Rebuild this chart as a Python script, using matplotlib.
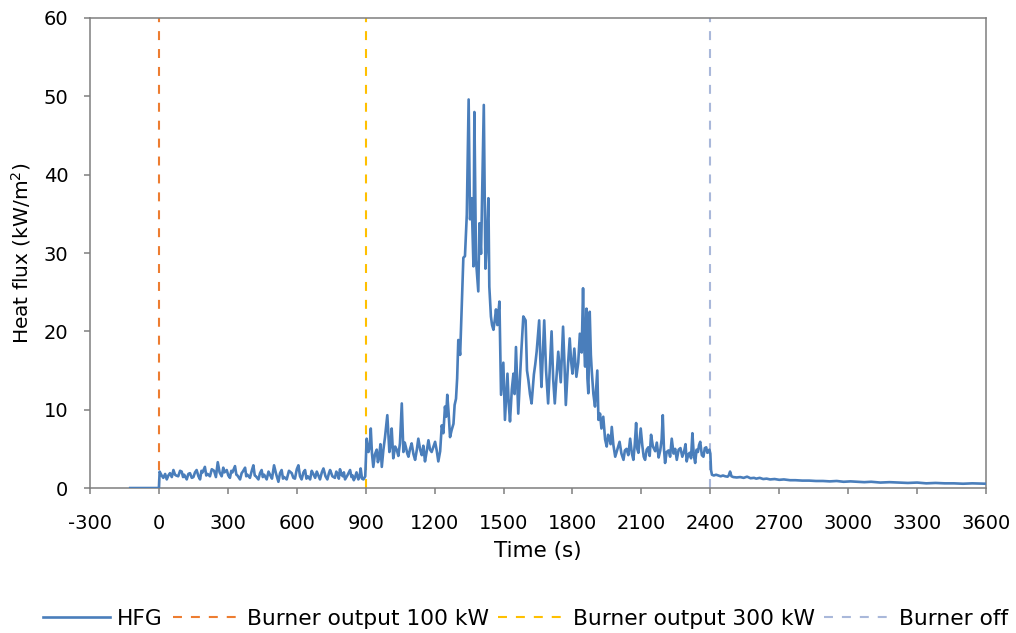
import numpy as np
import matplotlib
matplotlib.use('Agg')
import matplotlib.pyplot as plt

plt.rcParams['font.family'] = ['DejaVu Sans']
plt.rcParams['axes.unicode_minus'] = False

# HFG heat flux readings (time in s, heat flux in kW/m2)
time_s = [
    -125, -100, -50, -10, 0, 3, 12, 19, 27, 34, 41, 48, 56, 63, 70, 75, 84, 92, 99, 105, 110,
    121, 128, 135, 143, 150, 157, 164, 172, 179, 185, 190, 200, 206, 212, 222, 230, 240, 248,
    256, 264, 273, 280, 285, 295, 302, 309, 315, 320, 331, 337, 342, 353, 360, 365, 375, 380,
    385, 396, 404, 411, 417, 422, 433, 440, 447, 452, 458, 469, 477, 485, 492, 501, 510, 520,
    527, 534, 540, 545, 556, 566, 578, 585, 592, 600, 607, 614, 621, 629, 636, 642, 648, 658,
    665, 672, 680, 687, 694, 701, 709, 716, 725, 733, 740, 745, 755, 766, 772, 777, 783, 788,
    795, 800, 805, 810, 820, 832, 838, 843, 848, 853, 860, 868, 873, 878, 884, 890, 898,
    904, 912, 918, 922, 927, 933, 940, 948, 953, 958, 964, 970, 977, 984, 994, 1003, 1008,
    1013, 1020, 1028, 1035, 1042, 1049, 1057, 1064, 1070, 1075, 1081, 1086, 1093, 1100, 1108,
    1115, 1122, 1129, 1137, 1144, 1151, 1158, 1165, 1173, 1180, 1187, 1195, 1202, 1209, 1216,
    1224, 1231, 1238, 1245, 1250, 1255, 1261, 1267, 1274, 1282, 1287, 1293, 1298, 1303, 1311,
    1318, 1325, 1332, 1340, 1348, 1354, 1361, 1369, 1373, 1380, 1390, 1395, 1402, 1414, 1421,
    1427, 1434, 1438, 1445, 1450, 1456, 1462, 1467, 1473, 1482, 1489, 1494, 1499, 1506, 1511,
    1517, 1522, 1528, 1536, 1543, 1548, 1554, 1564, 1571, 1578, 1586, 1596, 1602, 1608, 1615,
    1622, 1632, 1638, 1644, 1655, 1660, 1665, 1671, 1677, 1685, 1694, 1702, 1709, 1716, 1723,
    1730, 1738, 1744, 1749, 1759, 1765, 1771, 1780, 1788, 1794, 1800, 1808, 1817, 1825, 1832,
    1840, 1846, 1851, 1855, 1861, 1865, 1869, 1875, 1880, 1884, 1891, 1898, 1903, 1908, 1913,
    1920, 1926, 1934, 1942, 1949, 1955, 1960, 1966, 1971, 1978, 1986, 1995, 2005, 2013, 2022,
    2028, 2035, 2043, 2051, 2058, 2065, 2071, 2077, 2082, 2087, 2097, 2104, 2110, 2116, 2123,
    2130, 2136, 2142, 2150, 2160, 2167, 2175, 2182, 2188, 2193, 2198, 2203, 2210, 2218, 2225,
    2232, 2240, 2247, 2254, 2262, 2270, 2278, 2286, 2292, 2297, 2304, 2310, 2316, 2322, 2328,
    2334, 2340, 2346, 2351, 2356, 2363, 2370, 2376, 2382, 2387, 2392, 2396, 2400, 2403, 2407,
    2415, 2425, 2435, 2445, 2455, 2465, 2475, 2480, 2486, 2492, 2500, 2515, 2530, 2545, 2560,
    2575, 2590, 2600, 2615, 2630, 2645, 2660, 2680, 2700, 2720, 2747, 2770, 2800, 2830, 2860,
    2890, 2920, 2950, 2980, 3010, 3037, 3070, 3100, 3140, 3180, 3220, 3260, 3300, 3340, 3380,
    3420, 3460, 3500, 3540, 3587, 3600,
]
heat_flux = [
    0.0, 0.0, 0.0, 0.0, 0.0, 2.1, 1.6, 1.3, 1.8, 1.1, 1.6, 1.9, 1.4, 2.3, 1.7, 1.6, 1.5, 2.2, 2.1, 1.4, 1.7,
    1.1, 1.8, 1.9, 1.3, 1.4, 2.0, 2.3, 1.5, 1.1, 2.2, 2.0, 2.7, 1.6, 1.8, 1.5, 2.4, 2.2, 1.4,
    3.3, 2.0, 1.5, 2.6, 2.0, 2.3, 1.6, 1.3, 2.2, 2.0, 2.8, 1.7, 1.6, 1.1, 1.9, 2.1, 2.6, 1.5,
    1.7, 1.3, 2.2, 2.9, 1.6, 1.5, 1.1, 1.9, 2.3, 1.4, 1.7, 1.1, 2.1, 1.6, 1.2, 2.9, 1.8, 0.8,
    1.9, 2.3, 1.2, 1.4, 1.1, 2.2, 1.9, 1.3, 1.2, 2.4, 2.9, 1.5, 1.1, 2.0, 2.3, 1.2, 1.5, 1.1,
    2.2, 1.8, 1.3, 2.1, 1.6, 1.1, 2.0, 2.5, 1.5, 1.1, 1.9, 2.3, 1.5, 1.3, 2.1, 1.8, 1.2, 2.4,
    1.7, 1.5, 2.0, 1.1, 1.6, 2.3, 1.4, 1.6, 1.0, 1.3, 2.0, 1.1, 1.4, 2.5, 1.2, 1.1, 1.5,
    6.3, 4.6, 5.4, 7.6, 4.5, 2.7, 4.3, 4.9, 3.3, 3.8, 5.6, 2.7, 4.9, 6.5, 9.3, 4.6, 5.5,
    7.6, 3.8, 5.3, 4.9, 4.1, 5.7, 10.8, 4.6, 5.8, 5.2, 4.4, 4.0, 5.0, 5.7, 4.3,
    3.6, 4.8, 6.3, 4.9, 4.2, 5.4, 3.4, 4.6, 6.1, 4.9, 4.6, 5.3, 5.9, 4.8, 3.4,
    4.7, 8.0, 7.0, 10.4, 9.1, 11.9, 9.5, 6.5, 7.4, 8.2, 10.6, 11.4, 14.0, 18.9, 17.0,
    23.0, 29.4, 29.6, 34.9, 49.6, 34.3, 37.0, 28.3, 48.0, 29.1, 25.1, 33.8, 29.9, 48.9, 28.0,
    31.2, 37.0, 25.7, 21.9, 20.8, 20.2, 21.5, 22.8, 20.8, 23.8, 11.9, 14.0, 16.0, 8.7, 11.5,
    14.6, 11.0, 8.5, 12.6, 14.6, 12.0, 18.0, 9.5, 13.8, 17.8, 21.9, 21.4, 15.0, 13.8, 12.0,
    10.8, 14.5, 15.8, 17.4, 21.4, 16.5, 12.9, 17.0, 21.4, 15.0, 10.8, 15.6, 20.0, 13.9, 10.8,
    14.0, 17.4, 15.2, 13.5, 20.6, 16.0, 10.6, 15.5, 19.1, 16.2, 14.6, 17.8, 14.2, 16.0, 19.7,
    17.3, 25.5, 18.0, 15.5, 22.9, 14.0, 12.1, 22.5, 17.0, 14.9, 12.0, 10.4, 12.8, 15.0, 8.7,
    9.5, 7.6, 9.1, 6.2, 5.3, 6.8, 6.5, 5.6, 7.8, 5.5, 4.0, 4.9, 5.9, 4.4, 3.6,
    4.8, 5.0, 4.2, 6.3, 4.5, 3.6, 5.5, 8.3, 5.0, 4.5, 7.6, 5.4, 4.0, 3.6, 4.9,
    5.2, 4.1, 6.8, 5.3, 4.7, 5.8, 3.9, 4.8, 6.2, 9.3, 5.1, 3.2, 4.6, 4.8, 4.0,
    6.3, 4.4, 5.0, 3.6, 4.9, 5.1, 4.0, 4.7, 5.6, 3.4, 4.3, 4.5, 3.8, 7.0, 4.2,
    3.2, 4.9, 4.6, 5.5, 5.9, 4.2, 4.0, 5.1, 5.2, 4.5, 4.6, 4.9, 4.4, 2.3, 1.7,
    1.6, 1.7, 1.6, 1.5, 1.6, 1.5, 1.45, 1.6, 2.1, 1.5, 1.4, 1.35, 1.4, 1.3, 1.45,
    1.25, 1.3, 1.2, 1.3, 1.15, 1.2, 1.1, 1.15, 1.05, 1.1, 1.0, 1.0, 0.95, 0.95, 0.9,
    0.9, 0.85, 0.9, 0.8, 0.85, 0.8, 0.75, 0.8, 0.7, 0.75, 0.7, 0.65, 0.7, 0.6, 0.65,
    0.6, 0.6, 0.55, 0.6, 0.55, 0.55,
]

# burner events (s)
event_times = [0, 900, 2400]
event_labels = ['Burner output 100 kW', 'Burner output 300 kW', 'Burner off']
event_colors = ['#ED7D31', '#FFC000', '#A9B8DA']

x_ticks = list(range(-300, 3601, 300))
y_ticks = list(range(0, 61, 10))

fig = plt.figure(figsize=(10.16, 6.33), dpi=100)
ax = fig.add_axes([0.0886, 0.229, 0.8819, 0.7426])

ax.plot(time_s, heat_flux, color='#4A7EBB', lw=1.9, label='HFG', zorder=3)
for t, lab, c in zip(event_times, event_labels, event_colors):
    ax.plot([t, t], [0, 60], color=c, lw=1.5, ls=(0, (4.3, 4.3)), label=lab, zorder=2)

ax.set_xlim(-300, 3600)
ax.set_ylim(0, 60)
ax.set_xticks(x_ticks)
ax.set_yticks(y_ticks)
ax.tick_params(axis='both', direction='out', length=4.5, width=1.1, color='#7F7F7F',
               labelsize=14, labelcolor='black')
ax.tick_params(axis='x', pad=14)
ax.tick_params(axis='y', pad=11)
for sp in ax.spines.values():
    sp.set_color('#7F7F7F')
    sp.set_linewidth(1.1)

ax.set_xlabel('Time (s)', fontsize=15.5, labelpad=6)
ax.set_ylabel('Heat flux (kW/m$^2$)', fontsize=14.5, labelpad=8)

fig.legend(loc='center', bbox_to_anchor=(0.517, 0.022), ncol=4, frameon=False, fontsize=15.7,
           handlelength=3.1, handletextpad=0.3, columnspacing=0.45, borderpad=0)

plt.savefig('out.png', dpi=100, facecolor='white')
